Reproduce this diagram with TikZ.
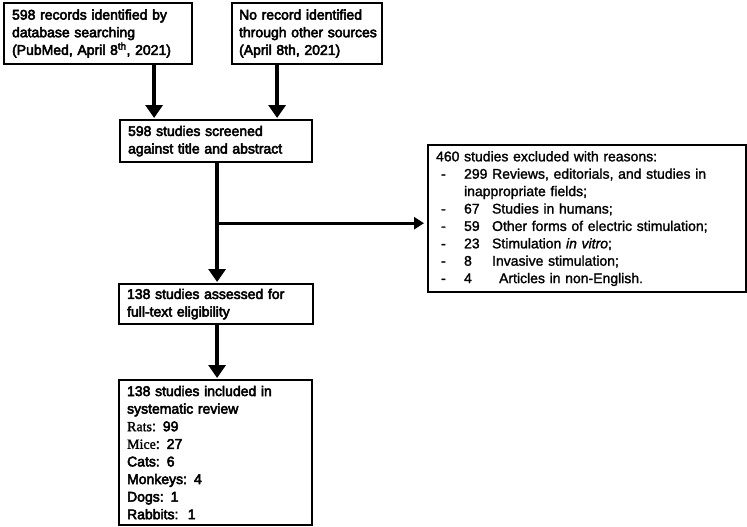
\documentclass[tikz,border=0pt]{standalone}
\usepackage{fontspec}
\setmainfont{Liberation Sans}
\newfontfamily\tb[FakeBold=3.5]{Liberation Sans}
\newfontfamily\tms[FakeBold=1.5]{Liberation Serif}
\newfontfamily\tr[FakeBold=1.5]{Liberation Sans}
\usetikzlibrary{arrows.meta,positioning}
\tikzset{
  box/.style={draw, line width=2.2pt, inner xsep=8pt, inner ysep=0pt, anchor=north west,
    align=left, font=\tb\fontsize{14}{17.6}\selectfont},
  exbox/.style={draw, line width=2.2pt, inner xsep=8pt, inner ysep=0pt, anchor=north west,
    align=left, font=\tr\fontsize{14}{17.4}\selectfont},
  arr/.style={line width=3.6pt, -{Triangle[length=13pt,width=17pt]}, shorten >=1pt},
  harr/.style={line width=3pt, -{Triangle[length=10pt,width=12pt]}, shorten >=3pt}
}
\newcommand{\exitem}[2]{\hspace*{5pt}\makebox[23pt][l]{-}\makebox[#1][l]{#2}}
\begin{document}
\begin{tikzpicture}[x=1pt,y=-1pt]
\useasboundingbox (0,0) rectangle (747,527);
\node[box, text width=172pt, minimum height=61pt] (rec) at (3,2)
  {598 records identified by\\database searching\\(PubMed, April 8\textsuperscript{th}, 2021)};
\node[box, text width=136pt, inner xsep=7pt, minimum height=61pt] (oth) at (231,2)
  {\mbox{No record identified}\\\mbox{through other sources}\\\mbox{(April 8th, 2021)}};
\node[box, text width=176pt, minimum height=42pt] (scr) at (119,119)
  {598 studies screened\\against title and abstract};
\node[exbox, text width=302pt, minimum height=147pt] (exc) at (427,144)
  {460 studies excluded with reasons:\\
   \exitem{0pt}{}299 Reviews, editorials, and studies in\\
   \hspace*{28pt}inappropriate fields;\\
   \exitem{28pt}{67}Studies in humans;\\
   \exitem{28pt}{59}Other forms of electric stimulation;\\
   \exitem{28pt}{23}Stimulation \textit{in vitro};\\
   \exitem{28pt}{8}Invasive stimulation;\\
   \exitem{35pt}{4}Articles in non-English.};
\node[box, text width=178pt, minimum height=40pt] (ass) at (118,283)
  {138 studies assessed for\\full-text eligibility};
\node[box, text width=177pt, minimum height=145pt] (inc) at (118,379)
  {138 studies included in\\systematic review\\
   {\tms Rats}: 99\\
   {\tms Mice}: 27\\
   Cats: 6\\
   Monkeys: 4\\
   Dogs: 1\\
   Rabbits:\ \ 1};
\draw[arr] ([xshift=56pt]rec.south) -- ([xshift=-62pt]scr.north);
\draw[arr] ([xshift=-30pt]oth.south) -- ([xshift=61pt]scr.north);
\draw[arr] ([xshift=1pt]scr.south) -- ([xshift=1pt]scr.south |- ass.north);
\coordinate (br) at ([xshift=1pt,yshift=-60pt]scr.south);
\draw[harr] ([xshift=-1.5pt]br) -- (br -| exc.west);
\draw[arr] ([xshift=1pt]ass.south) -- ([xshift=1pt]ass.south |- inc.north);
\end{tikzpicture}
\end{document}
